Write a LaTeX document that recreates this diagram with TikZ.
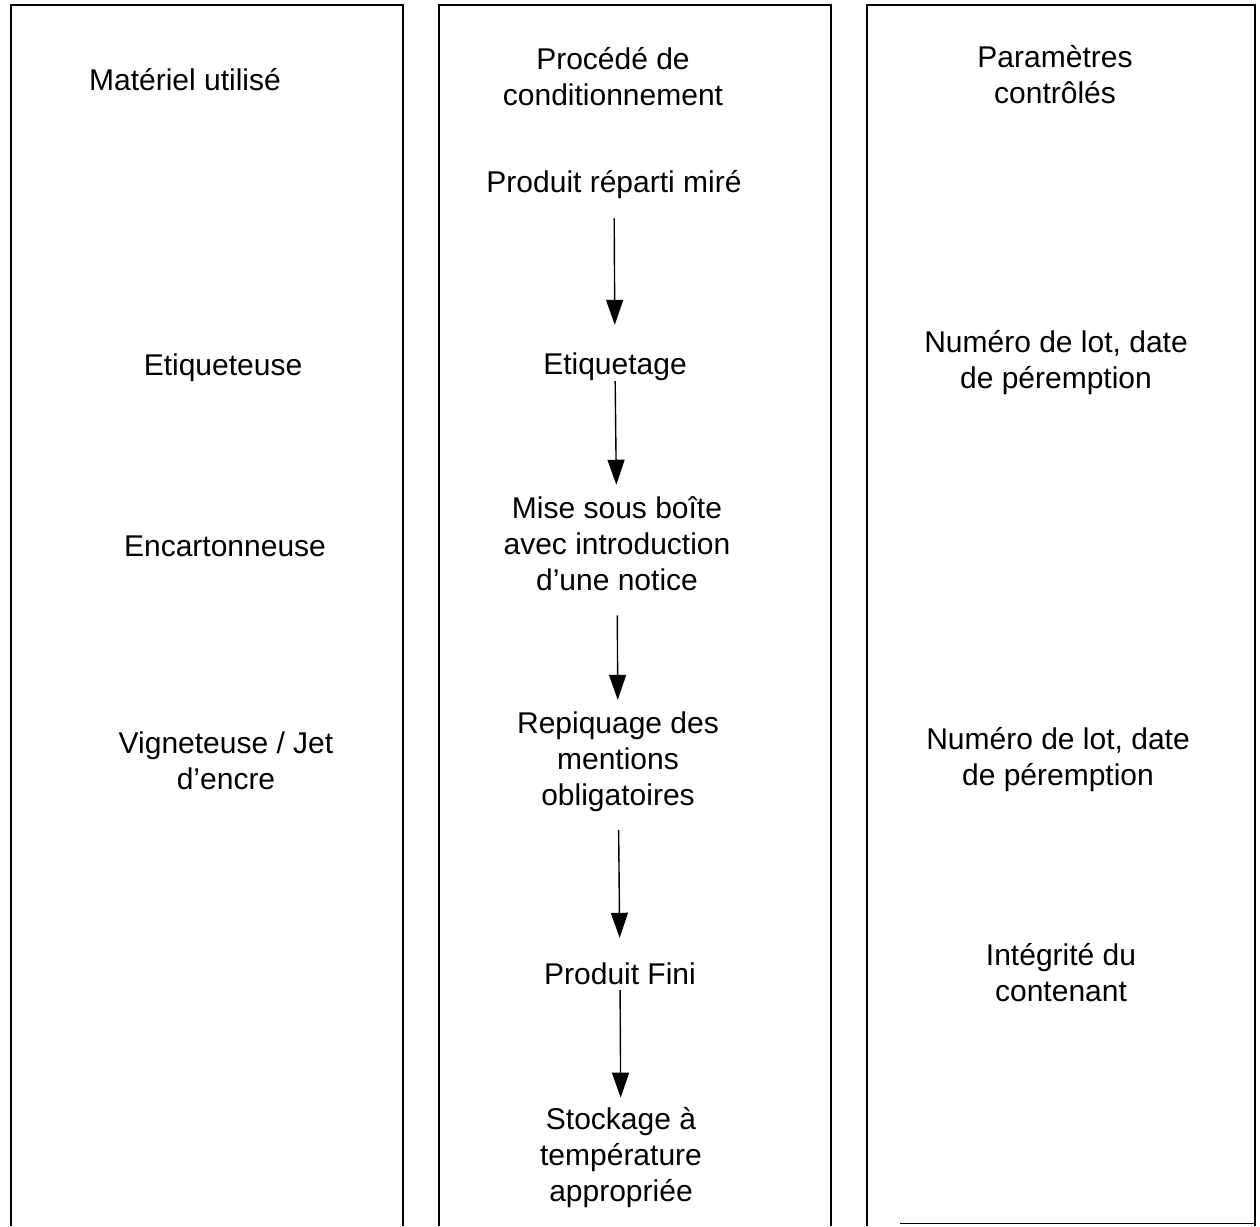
\documentclass[tikz,border=0pt]{standalone}
\usepackage{fontspec}
\setmainfont{Liberation Sans}
\usetikzlibrary{arrows.meta}
\begin{document}
\begin{tikzpicture}[x=1pt,y=-1pt,
  txt/.style={font=\fontsize{30}{36}\selectfont, align=center, inner sep=0pt},
  col/.style={line width=1.6pt},
  arr/.style={line width=1.4pt, -{Triangle[width=17pt,length=25pt]}}]
\useasboundingbox (0,0) rectangle (1260,1226);
% columns
\draw[col] (11,1226) -- (11,5) -- (403,5) -- (403,1226);
\draw[col] (439,1226) -- (439,5) -- (831,5) -- (831,1226);
\draw[col] (867,1226) -- (867,5) -- (1255,5) -- (1255,1226);
\draw[line width=1pt] (900,1223) -- (1255,1223);
% headers
\node[txt] (h1) at (185,80) {Matériel utilisé};
\node[txt] (h2) at (613,77) {Procédé de\\conditionnement};
\node[txt] (h3) at (1055,75) {Paramètres\\contrôlés};
% left column
\node[txt] (m1) at (223,368) {Etiqueteuse};
\node[txt] (m2) at (225,546) {Encartonneuse};
\node[txt] (m3) at (226,761) {Vigneteuse / Jet\\d’encre};
% middle column
\node[txt] (p1) at (614,185) {Produit réparti miré};
\node[txt] (p2) at (615,367) {Etiquetage};
\node[txt] (p3) at (617,544) {Mise sous boîte\\avec introduction\\d’une notice};
\node[txt] (p4) at (618,762) {Repiquage des\\mentions\\obligatoires};
\node[txt] (p5) at (620,974) {Produit Fini};
\node[txt] (p6) at (621,1158) {Stockage à\\température\\appropriée};
% right column
\node[txt] (c1) at (1056,363) {Numéro de lot, date\\de péremption};
\node[txt] (c2) at (1058,760) {Numéro de lot, date\\de péremption};
\node[txt] (c3) at (1061,973) {Intégrité du\\contenant};
% arrows
\draw[arr, shorten <=19pt, shorten >=28pt] (p1) -- (p2);
\draw[arr, shorten <=0pt, shorten >=12pt] (p2) -- (p3);
\draw[arr, shorten <=24pt, shorten >=12pt] (p3) -- (p4);
\draw[arr, shorten <=18pt, shorten >=25pt] (p4) -- (p5);
\draw[arr, shorten <=5pt, shorten >=10pt] (p5) -- (p6);
\end{tikzpicture}
\end{document}
